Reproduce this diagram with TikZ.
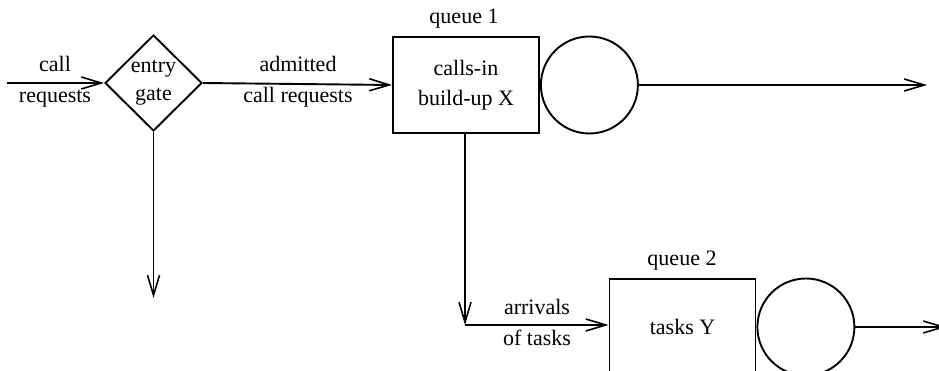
\documentclass[tikz,border=0pt]{standalone}
\usepackage{fontspec}
\setmainfont{Liberation Serif}
\usetikzlibrary{arrows.meta,shapes.geometric}
\begin{document}
\begin{tikzpicture}[x=1pt,y=-1pt,
  every node/.style={font=\fontsize{22}{29}\selectfont, align=center, inner sep=0pt},
  edgelabel/.style={font=\fontsize{22}{31}\selectfont},
  flow/.style={line width=1.9pt, -{Straight Barb[length=20pt,width=12pt,line width=1.6pt]}},
  gatebox/.style={shape=diamond, draw, line width=1.9pt, minimum width=97pt, minimum height=96pt, font=\fontsize{22}{28}\selectfont},
  queuebox/.style={draw, line width=1.9pt, minimum width=146pt, minimum height=96pt, font=\fontsize{22}{30}\selectfont},
  server/.style={circle, draw, line width=1.9pt, minimum size=97pt}]
\useasboundingbox (0,0) rectangle (939,371);
\clip (0,0) rectangle (939,371);

% admission stage
\node[gatebox] (gate) at (153.5,83) {entry\\gate};
\coordinate (src) at (7,83);
\coordinate (rejected) at (153.5,298);

% queue 1 with its server
\node[queuebox] (q1) at (466,85) {calls-in\\build-up X};
\node[server, anchor=west] (s1) at (q1.east) {};
\coordinate (out1) at (927,85);

% queue 2 with its server
\node[queuebox] (q2) at (682.5,327) {tasks Y};
\node[server, anchor=west] (s2) at (q2.east) {};
\coordinate (out2) at (946,327);

% task routing corner
\coordinate (corner) at (465,325);

% queue titles
\node (t1) at (464,19) {queue 1};
\node (t2) at (682,261) {queue 2};

% connectors
\draw[flow] (src) -- (gate.west);
\draw[flow] (gate.south) -- (rejected);
\draw[flow] (gate.east) -- (q1.west);
\draw[flow] (s1.east) -- (out1);
\draw[flow] (q1.south -| corner) -- (corner);
\draw[flow] (corner) -- (corner -| q2.west);
\draw[flow] (s2.east) -- (out2);

% connector labels
\node[edgelabel] (l1) at (55,82) {call\\requests};
\node[edgelabel] (l2) at (298,82) {admitted\\call requests};
\node[edgelabel] (l3) at (537,322) {arrivals\\of tasks};
\end{tikzpicture}
\end{document}
